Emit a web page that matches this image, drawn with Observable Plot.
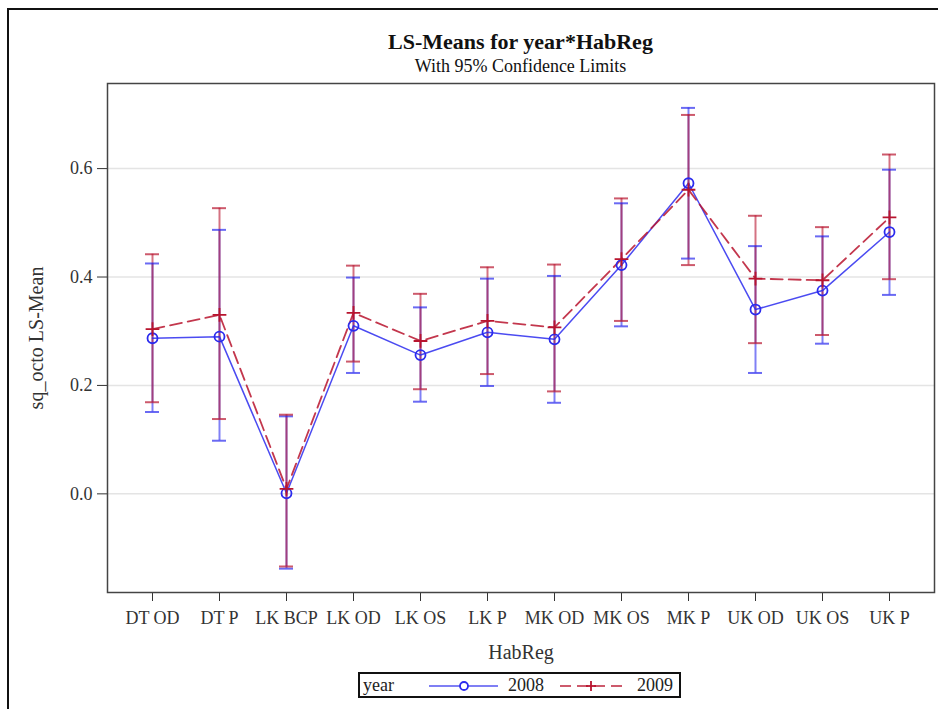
<!DOCTYPE html>
<html>
<head>
<meta charset="utf-8">
<script src="https://cdn.jsdelivr.net/npm/d3@7"></script>
<script src="https://cdn.jsdelivr.net/npm/@observablehq/plot@0.6"></script>
<style>
  html, body { margin: 0; padding: 0; background: #fff; }
  body { width: 938px; height: 709px; position: relative; overflow: hidden; font-family: "Liberation Serif", "Times New Roman", serif; }
  #border { position: absolute; left: 7px; top: 8px; width: 960px; height: 760px; border-left: 2px solid #111; border-top: 2px solid #111; }
  #title { position: absolute; left: 107px; width: 827px; top: 28px; text-align: center; font-weight: bold; font-size: 22px; color: #111; line-height: 27px; }
  #subtitle { position: absolute; left: 107px; width: 827px; top: 56px; text-align: center; font-size: 18px; color: #111; line-height: 21px; }
  #chart { position: absolute; left: 0; top: 70px; }
  #chart g[aria-label="x-axis label"] text, #chart g[aria-label="y-axis label"] text { font-size: 20px; }
  #legend { position: absolute; left: 358px; top: 672px; width: 319px; height: 22px; border: 2px solid #111; font-size: 18px; color: #222; }
  #legend span { position: absolute; top: 1px; line-height: 20px; }
  #legend svg { position: absolute; top: 0; }
</style>
</head>
<body>
<div id="border"></div>
<div id="title">LS-Means for year*HabReg</div>
<div id="subtitle">With 95% Confidence Limits</div>
<div id="chart"></div>
<div id="legend">
  <span style="left:3px">year</span>
  <svg id="leg2008" style="left:67px" width="72" height="22"></svg>
  <span style="left:148px">2008</span>
  <svg id="leg2009" style="left:198px" width="68" height="22"></svg>
  <span style="left:277px">2009</span>
</div>
<script>
// ---- data ----
const categories = ["DT OD","DT P","LK BCP","LK OD","LK OS","LK P","MK OD","MK OS","MK P","UK OD","UK OS","UK P"];
const years = ["2008","2009"];
const mean2008  = [0.287, 0.290, 0.001, 0.310, 0.256, 0.298, 0.285, 0.422, 0.573, 0.340, 0.375, 0.483];
const lower2008 = [0.151, 0.098, -0.138, 0.223, 0.170, 0.199, 0.168, 0.309, 0.434, 0.223, 0.277, 0.367];
const upper2008 = [0.425, 0.487, 0.143, 0.399, 0.344, 0.397, 0.402, 0.536, 0.712, 0.457, 0.475, 0.598];
const mean2009  = [0.304, 0.330, 0.009, 0.334, 0.282, 0.319, 0.307, 0.433, 0.561, 0.397, 0.394, 0.510];
const lower2009 = [0.169, 0.138, -0.134, 0.244, 0.193, 0.221, 0.189, 0.319, 0.422, 0.278, 0.293, 0.396];
const upper2009 = [0.442, 0.527, 0.146, 0.421, 0.369, 0.418, 0.423, 0.545, 0.699, 0.513, 0.492, 0.626];
const yTicks = [0, 0.2, 0.4, 0.6];

const blue = "#2b2bee";
const red = "#b8142e";

const d2008 = categories.map((c, i) => ({cat: c, year: "2008", mean: mean2008[i], lo: lower2008[i], hi: upper2008[i]}));
const d2009 = categories.map((c, i) => ({cat: c, year: "2009", mean: mean2009[i], lo: lower2009[i], hi: upper2009[i]}));
const all = d2008.concat(d2009);

const chart = Plot.plot({
  width: 938,
  height: 600,
  marginTop: 13,
  marginBottom: 78,
  marginLeft: 107,
  marginRight: 4,
  style: {fontFamily: "'Liberation Serif', 'Times New Roman', serif", fontSize: "18px", color: "#333", background: "transparent", overflow: "visible"},
  x: {type: "band", domain: categories, paddingInner: 0.79, paddingOuter: 0.5, label: "HabReg", labelAnchor: "center", labelOffset: 66, tickSize: 9, tickPadding: 10},
  y: {domain: [-0.182, 0.757], ticks: yTicks, tickFormat: ".1f", label: "sq_octo LS-Mean", labelAnchor: "center", labelOffset: 79, tickSize: 10, tickPadding: 5, labelArrow: "none"},
  color: {domain: years, range: [blue, red]},
  marks: [
    Plot.gridY(yTicks, {stroke: "#e4e4e4", strokeOpacity: 1, strokeWidth: 1.5}),
    Plot.ruleX(all, {x: "cat", y1: "lo", y2: "hi", stroke: "year", strokeOpacity: 0.6, strokeWidth: 2}),
    Plot.tickY(all, {x: "cat", y: "hi", stroke: "year", strokeOpacity: 0.7, strokeWidth: 2}),
    Plot.tickY(all, {x: "cat", y: "lo", stroke: "year", strokeOpacity: 0.7, strokeWidth: 2}),
    Plot.line(d2008, {x: "cat", y: "mean", stroke: "year", strokeWidth: 1.5, strokeOpacity: 0.85}),
    Plot.line(d2009, {x: "cat", y: "mean", stroke: "year", strokeWidth: 1.8, strokeOpacity: 0.85, strokeDasharray: "12,6"}),
    Plot.dot(d2008, {x: "cat", y: "mean", stroke: "year", r: 5, strokeWidth: 1.8, fill: "none"}),
    Plot.dot(d2009, {x: "cat", y: "mean", stroke: "year", symbol: "plus", r: 4.5, strokeWidth: 1.8}),
    Plot.frame({stroke: "#444", strokeWidth: 1.5})
  ]
});
document.getElementById("chart").appendChild(chart);

// legend symbols
const ns = "http://www.w3.org/2000/svg";
function el(parent, tag, attrs) {
  const e = document.createElementNS(ns, tag);
  for (const k in attrs) e.setAttribute(k, attrs[k]);
  parent.appendChild(e);
  return e;
}
const l8 = document.getElementById("leg2008");
el(l8, "line", {x1: 2, x2: 71, y1: 12, y2: 12, stroke: blue, "stroke-width": 1.5, "stroke-opacity": 0.8});
el(l8, "circle", {cx: 37, cy: 12, r: 4, fill: "white", stroke: blue, "stroke-width": 1.8});
const l9 = document.getElementById("leg2009");
el(l9, "line", {x1: 2, x2: 66, y1: 12, y2: 12, stroke: red, "stroke-width": 1.8, "stroke-opacity": 0.7, "stroke-dasharray": "11,6"});
el(l9, "line", {x1: 28, x2: 38, y1: 12, y2: 12, stroke: red, "stroke-width": 1.8});
el(l9, "line", {x1: 33, x2: 33, y1: 7, y2: 17, stroke: red, "stroke-width": 1.8});
</script>
</body>
</html>
